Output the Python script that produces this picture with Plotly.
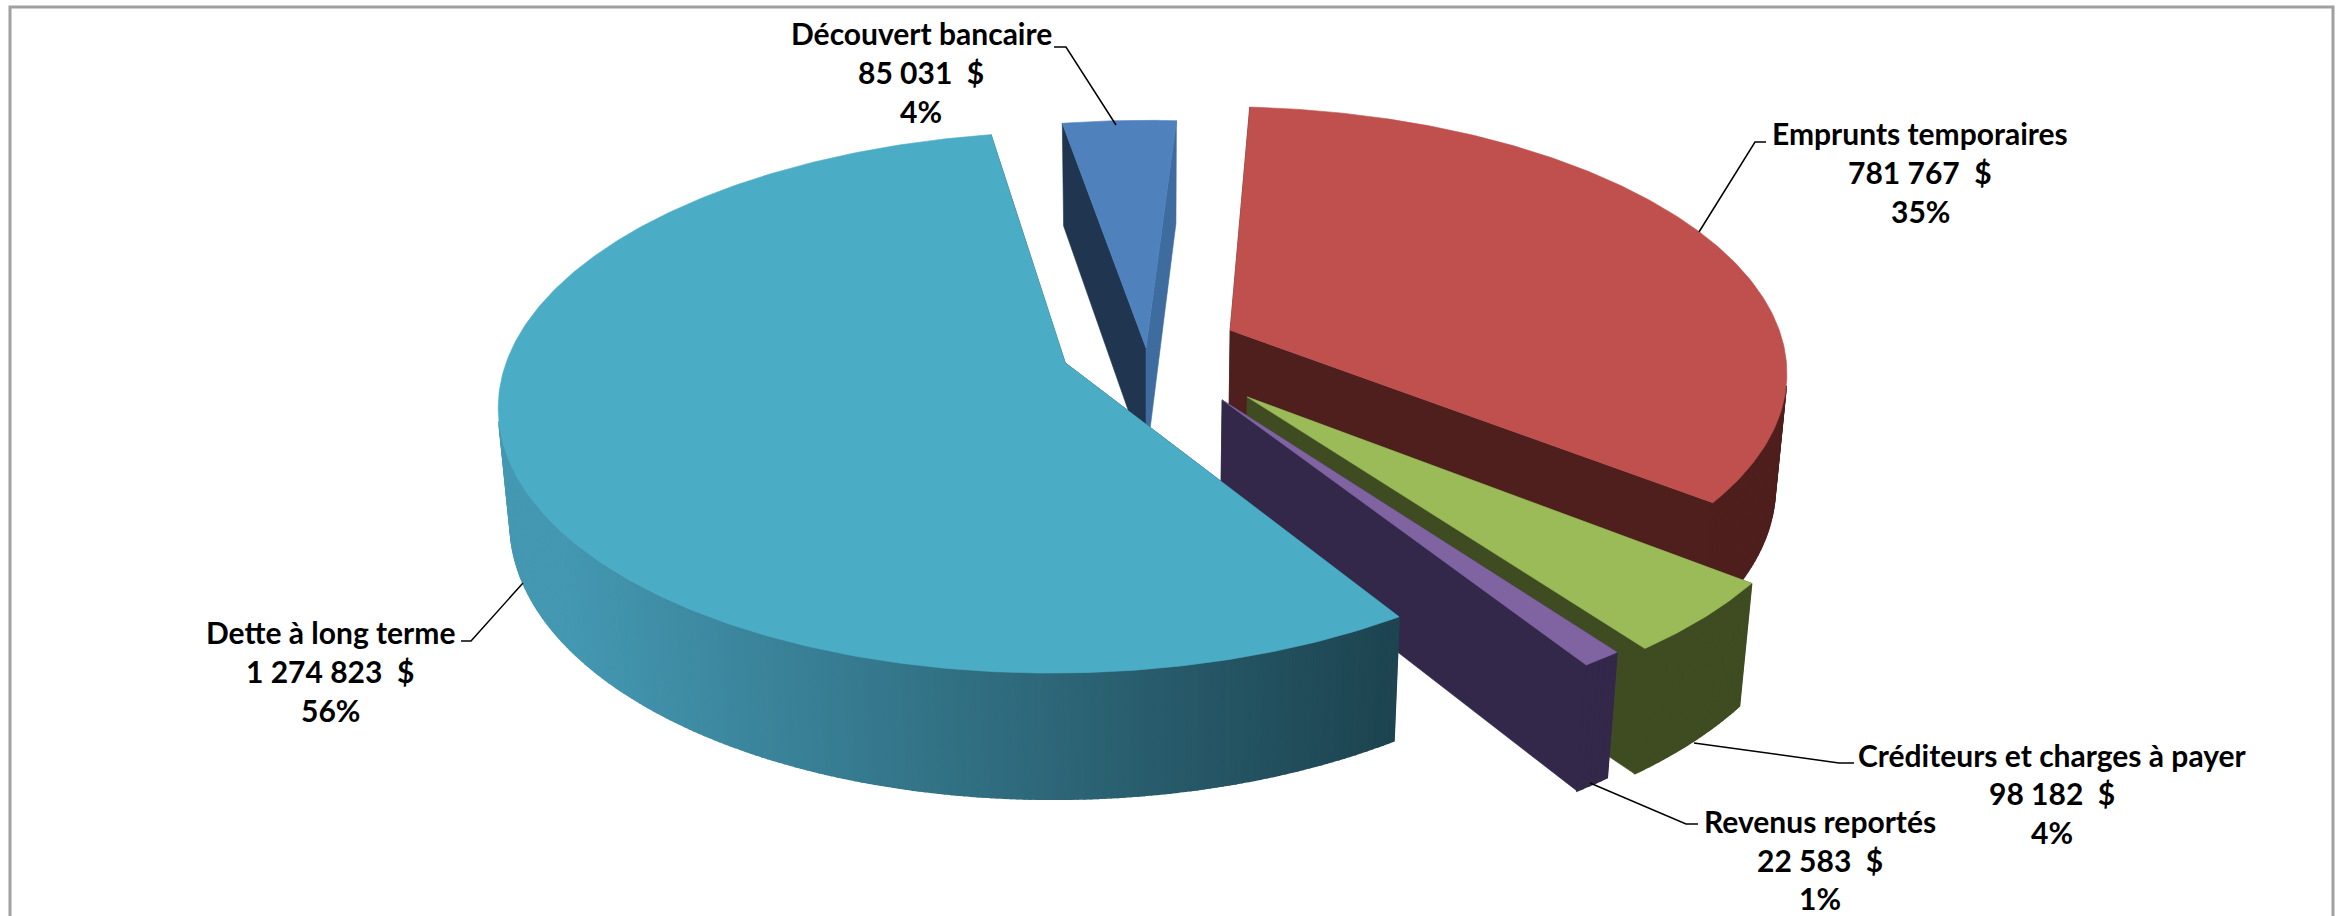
import math
import plotly.graph_objects as go

# ---- data ----
categories = ["Emprunts temporaires", "Créditeurs et charges à payer", "Revenus reportés",
              "Dette à long terme", "Découvert bancaire"]
values = [781767, 98182, 22583, 1274823, 85031]

# ---- styling ----
top_colors = ["#c0504d", "#9bbb59", "#8064a2", "#4bacc6", "#4f81bd"]
wall_colors = ["#4e1f1d", "#3f4c22", "#33284a", None, "#3f6c9f"]
cut_start_colors = ["#4e1f1d", "#3f4c22", "#33284a", "#1d4450", "#1f3550"]
cut_end_colors = ["#4e1f1d", "#3f4c22", "#33284a", "#1d4450", "#3f6c9f"]
explode = [0.168, 0.255, 0.235, 0.155, 0.0]
draw_order = [4, 0, 1, 2, 3]
start_angle = 3.6
W, H_PX = 2343, 916
CX, CY = 1146, 348
F, D = 3383.0, 6.1
SIN_E, COS_E = 0.47, 0.883
THICK = 0.235

label_x = [1920, 2052, 1820, 330, 921]
label_y = [[133, 172, 211], [755, 793, 832], [821, 860, 898], [632, 671, 710], [33, 72, 111]]
leader_x = [[1766, 1755, 1699], [1854, 1839, 1694], [1698, 1686, 1590], [461, 471, 523], [1054, 1066, 1116]]
leader_y = [[142, 142, 232], [763, 763, 743], [824, 824, 783], [641, 641, 583], [47, 47, 125]]
FRAME_X = [10, 10, 2333, 2333]
FRAME_Y = [916, 7, 7, 916]


def project(x, y, z):
    d = D - y * COS_E - z * SIN_E
    return CX + F * x / d, CY + F * (y * SIN_E - z * COS_E) / d


def mix(a, b, t):
    t = max(0.0, min(1.0, t))
    ca = [int(a[i:i + 2], 16) for i in (1, 3, 5)]
    cb = [int(b[i:i + 2], 16) for i in (1, 3, 5)]
    return "#%02x%02x%02x" % tuple(round(p + (q - p) * t) for p, q in zip(ca, cb))


fig = go.Figure()


def poly(pts, color, lw=0.6):
    xs = [p[0] for p in pts] + [pts[0][0]]
    ys = [p[1] for p in pts] + [pts[0][1]]
    fig.add_trace(go.Scatter(x=xs, y=ys, mode="lines", fill="toself", fillcolor=color,
                             line=dict(color=color, width=lw), hoverinfo="skip", showlegend=False))


fig.add_trace(go.Scatter(x=FRAME_X, y=FRAME_Y, mode="lines", line=dict(color="#a0a0a0", width=3),
                         hoverinfo="skip", showlegend=False))

total = sum(values)
spans = []
a = start_angle
for v in values:
    spans.append((a, a + 360.0 * v / total))
    a += 360.0 * v / total

for i in draw_order:
    a0, a1 = spans[i]
    mid = math.radians((a0 + a1) / 2)
    ox, oy = explode[i] * math.sin(mid), -explode[i] * math.cos(mid)
    n = max(4, int((a1 - a0) / 0.6))
    angs = [math.radians(a0 + (a1 - a0) * k / n) for k in range(n + 1)]
    rim = [(ox + math.sin(t), oy - math.cos(t)) for t in angs]

    # cut faces
    poly([project(ox, oy, 0), project(*rim[0], 0), project(*rim[0], -THICK), project(ox, oy, -THICK)],
         cut_start_colors[i])
    poly([project(ox, oy, 0), project(*rim[-1], 0), project(*rim[-1], -THICK), project(ox, oy, -THICK)],
         cut_end_colors[i])
    # outer wall: only the part that faces the camera
    for k in range(n):
        tm = (angs[k] + angs[k + 1]) / 2
        rx, ry = math.sin(tm), -math.cos(tm)
        px, py = ox + rx, oy + ry
        if rx * (0 - px) + ry * (D * COS_E - py) <= 0:
            continue
        q = [project(*rim[k], 0), project(*rim[k + 1], 0), project(*rim[k + 1], -THICK), project(*rim[k], -THICK)]
        if wall_colors[i] is None:
            xm = (q[0][0] + q[1][0]) / 2
            col = mix("#4498b2", "#1d4450", (xm - 560) / (1390 - 560))
        else:
            col = wall_colors[i]
        poly(q, col, lw=1.6)
    # top
    poly([project(ox, oy, 0)] + [project(*p, 0) for p in rim], top_colors[i])

for lx, ly in zip(leader_x, leader_y):
    fig.add_trace(go.Scatter(x=lx, y=ly, mode="lines", line=dict(color="#000000", width=1.5),
                             hoverinfo="skip", showlegend=False))

annots = []
for name, v, x, ys in zip(categories, values, label_x, label_y):
    amount = f"{v:,}".replace(",", "\u00a0") + "\u00a0\u00a0$"
    pct = f"{round(100 * v / total)}%"
    for txt, y in zip([name, amount, pct], ys):
        annots.append(dict(x=x, y=y, text=f"<b>{txt}</b>", showarrow=False, xanchor="center", yanchor="middle",
                           font=dict(family="Lato", size=30, color="#000000")))

fig.update_layout(
    width=W, height=H_PX, margin=dict(l=0, r=0, t=0, b=0),
    paper_bgcolor="#ffffff", plot_bgcolor="#ffffff", showlegend=False,
    xaxis=dict(range=[0, W], visible=False, fixedrange=True),
    yaxis=dict(range=[H_PX, 0], visible=False, fixedrange=True),
    annotations=annots,
)
fig.write_html("out.html", config={"displayModeBar": False},
               post_script="document.body.style.margin='0';document.body.style.overflow='hidden';")
